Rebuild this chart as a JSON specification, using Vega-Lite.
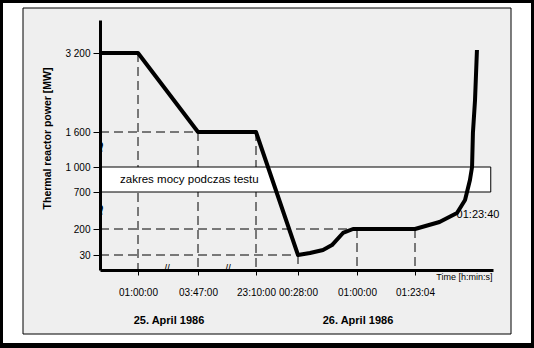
{
  "$schema": "https://vega.github.io/schema/vega-lite/v6.json",
  "background": "black",
  "padding": {"left": 3, "top": 3, "right": 3, "bottom": 5},
  "autosize": {"type": "pad"},
  "width": 528,
  "height": 340,
  "view": {"fill": "white", "stroke": null},
  "config": {"font": "Liberation Sans"},
  "datasets": {
    "panel": [{"a": 0, "b": 1, "c": 0, "d": 1}],
    "curve": [
      {"t": 0, "p": 3200}, {"t": 3600, "p": 3200}, {"t": 13620, "p": 1600}, {"t": 83400, "p": 1600},
      {"t": 88080, "p": 30}, {"t": 88470, "p": 43}, {"t": 88894, "p": 63}, {"t": 89186, "p": 95},
      {"t": 89544, "p": 174}, {"t": 89870, "p": 200}, {"t": 90000, "p": 200}, {"t": 91384, "p": 200},
      {"t": 91398, "p": 295}, {"t": 91408, "p": 416}, {"t": 91412.6, "p": 592}, {"t": 91415.4, "p": 844},
      {"t": 91416.6, "p": 1000}, {"t": 91417.1, "p": 1583}, {"t": 91418.3, "p": 2248}, {"t": 91419.4, "p": 3261}
    ],
    "dashes": [
      {"t": 0, "p": 1600, "t2": 13620, "p2": 1600},
      {"t": 0, "p": 200, "t2": 90000, "p2": 200},
      {"t": 0, "p": 30, "t2": 88080, "p2": 30},
      {"t": 3600, "p": 3200, "t2": 3600, "p2": -68},
      {"t": 13620, "p": 1600, "t2": 13620, "p2": -68},
      {"t": 83400, "p": 1600, "t2": 83400, "p2": -68},
      {"t": 88080, "p": 30, "t2": 88080, "p2": -68},
      {"t": 90000, "p": 200, "t2": 90000, "p2": -68},
      {"t": 91384, "p": 200, "t2": 91384, "p2": -68}
    ],
    "band": [{"t": 0, "p": 700, "t2": 91437, "p2": 1000, "label": "zakres mocy podczas testu", "tl": 1895, "pl": 850}],
    "dates": [{"t": 8777, "p": -68, "label": "25. April 1986"}, {"t": 90024, "p": -68, "label": "26. April 1986"}],
    "notes": [{"t": 91420, "p": 390, "label": "01:23:40"}],
    "xbreaks": [{"t": 8443, "p": -68, "g": "//"}, {"t": 49700, "p": -68, "g": "//"}],
    "ybreaks": [{"t": 0, "p": 1360, "g": "~"}, {"t": 0, "p": 470, "g": "~"}]
  },
  "resolve": {"scale": {"x": "independent", "y": "independent"}, "axis": {"x": "independent", "y": "independent"}},
  "layer": [
    {
      "data": {"name": "panel"},
      "mark": {"type": "rect", "fill": "#efefef", "stroke": "black", "strokeWidth": 1},
      "encoding": {
        "x": {"field": "a", "type": "quantitative", "scale": {"domain": [0, 1], "range": [20, 508], "nice": false, "zero": false}, "axis": null},
        "x2": {"field": "b"},
        "y": {"field": "c", "type": "quantitative", "scale": {"domain": [0, 1], "range": [331, 5], "nice": false, "zero": false}, "axis": null},
        "y2": {"field": "d"}
      }
    },
    {
      "encoding": {
        "x": {
          "field": "t", "type": "quantitative",
          "scale": {"domain": [0, 3600, 13620, 83400, 88080, 90000, 91384, 91420, 91440], "range": [97, 135, 195, 253, 295, 354, 412, 475, 490], "nice": false, "zero": false},
          "axis": {
            "values": [3600, 13620, 83400, 88080, 90000, 91384],
            "offset": -73, "zindex": 1,
            "domainWidth": 3, "domainColor": "black", "tickColor": "black", "tickSize": 5, "tickWidth": 1,
            "labelPadding": 12, "labelFontSize": 10, "labelColor": "black", "labelOverlap": false, "labelFlush": false, "labelBound": false,
            "labelExpr": "pad(floor((datum.value % 86400) / 3600) + '', 2, '0', 'left') + ':' + pad(floor((datum.value % 3600) / 60) + '', 2, '0', 'left') + ':' + pad((datum.value % 60) + '', 2, '0', 'left')",
            "grid": false,
            "title": "Time [h:min:s]", "titleX": 489, "titleY": 6, "titleAlign": "right", "titleBaseline": "middle", "titleAngle": 0,
            "titleFontSize": 9, "titleFontWeight": "normal", "titleColor": "black"
          }
        },
        "y": {
          "field": "p", "type": "quantitative",
          "scale": {"domain": [-68, 30, 200, 700, 1000, 1600, 3200, 3868], "range": [267, 252, 226, 189, 164, 129, 50, 17], "nice": false, "zero": false},
          "axis": {
            "values": [30, 200, 700, 1000, 1600, 3200],
            "offset": -97, "zindex": 1,
            "domainWidth": 3, "domainColor": "black", "tickColor": "black", "tickSize": 7, "tickWidth": 1,
            "labelPadding": 3, "labelFontSize": 10, "labelColor": "black", "labelOverlap": false, "labelFlush": false, "labelBound": false,
            "labelExpr": "replace(format(datum.value, ','), ',', ' ')",
            "grid": false,
            "title": "Thermal reactor power [MW]", "titleX": -53, "titleY": 135, "titleAngle": 270, "titleAlign": "center", "titleBaseline": "middle",
            "titleFontSize": 10.5, "titleFontWeight": "bold", "titleColor": "black"
          }
        }
      },
      "layer": [
        {
          "data": {"name": "dashes"},
          "mark": {"type": "rule", "color": "black", "strokeWidth": 1, "strokeDash": [9, 5]},
          "encoding": {"x2": {"field": "t2"}, "y2": {"field": "p2"}}
        },
        {
          "data": {"name": "band"},
          "mark": {"type": "rect", "fill": "white", "stroke": "black", "strokeWidth": 1},
          "encoding": {"x2": {"field": "t2"}, "y2": {"field": "p2"}}
        },
        {
          "data": {"name": "band"},
          "mark": {"type": "text", "align": "left", "baseline": "middle", "fontSize": 11.5, "fill": "black"},
          "encoding": {"x": {"field": "tl", "type": "quantitative"}, "y": {"field": "pl", "type": "quantitative"}, "text": {"field": "label"}}
        },
        {
          "data": {"name": "curve"},
          "mark": {"type": "line", "color": "black", "strokeWidth": 4, "strokeJoin": "round"},
          "encoding": {}
        },
        {
          "data": {"name": "notes"},
          "mark": {"type": "text", "align": "center", "baseline": "middle", "fontSize": 11, "fill": "black"},
          "encoding": {"text": {"field": "label"}}
        },
        {
          "data": {"name": "dates"},
          "mark": {"type": "text", "align": "center", "baseline": "middle", "fontSize": 11, "fontWeight": "bold", "fill": "black", "dy": 51},
          "encoding": {"text": {"field": "label"}}
        },
        {
          "data": {"name": "xbreaks"},
          "mark": {"type": "text", "align": "center", "baseline": "middle", "fontSize": 10, "fill": "black", "dy": -1},
          "encoding": {"text": {"field": "g"}}
        },
        {
          "data": {"name": "ybreaks"},
          "mark": {"type": "text", "align": "center", "baseline": "middle", "fontSize": 18, "fontWeight": "bold", "angle": 90, "fill": "black", "dx": 1},
          "encoding": {"text": {"field": "g"}}
        }
      ]
    }
  ]
}
